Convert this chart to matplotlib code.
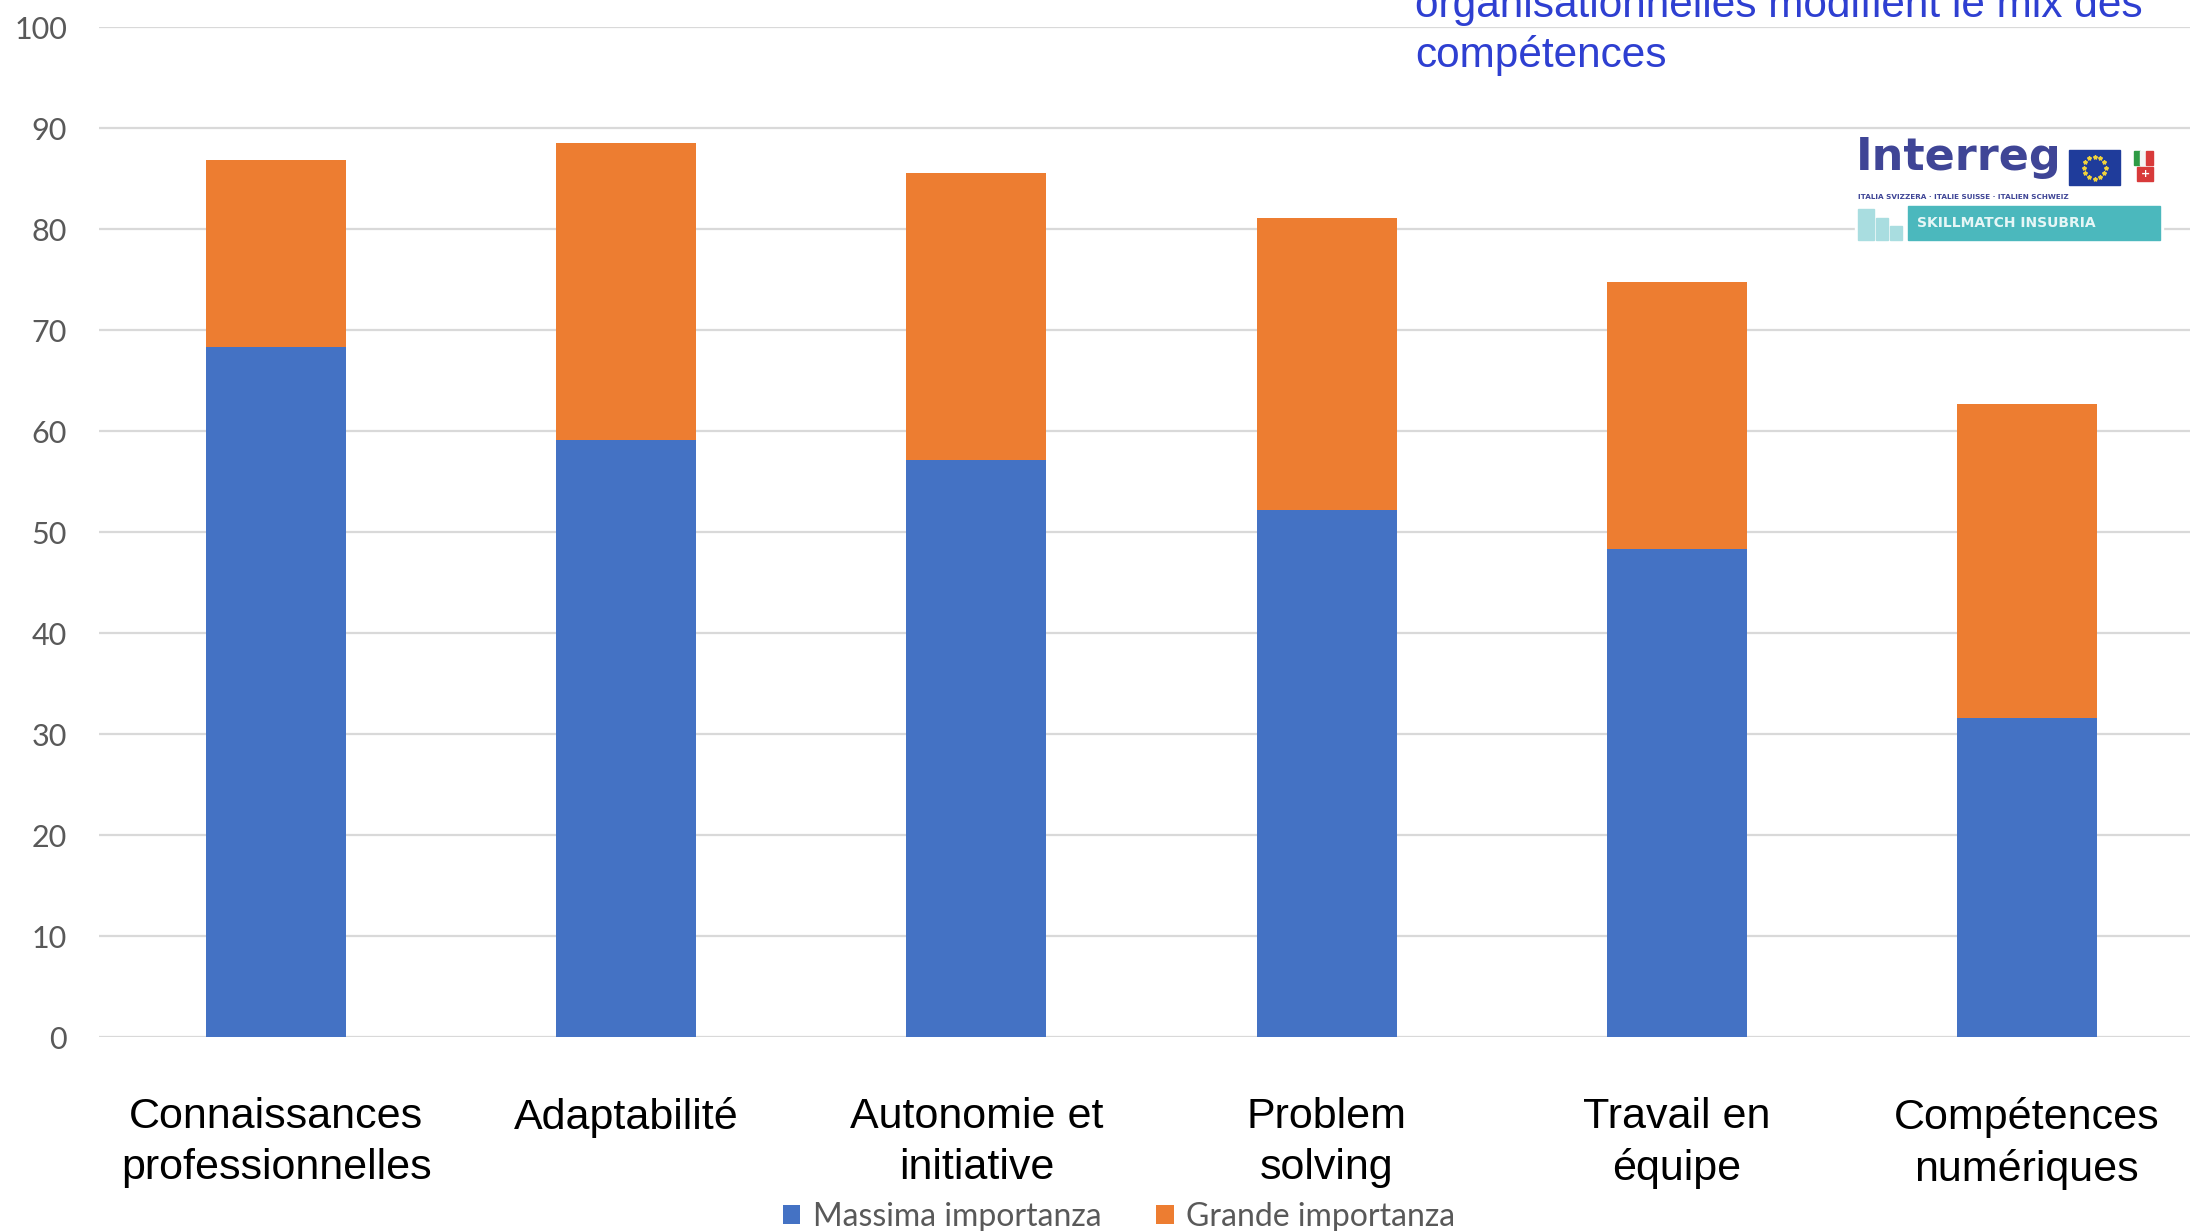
import numpy as np
import matplotlib.pyplot as plt
from matplotlib.patches import Rectangle

categories = ['Connaissances\nprofessionnelles', 'Adaptabilité', 'Autonomie et\ninitiative',
              'Problem\nsolving', 'Travail en\néquipe', 'Compétences\nnumériques']
massima = [68.3, 59.1, 57.2, 52.2, 48.3, 31.6]
grande_total = [86.9, 88.5, 85.6, 81.1, 74.8, 62.7]
grande = [t - m for t, m in zip(grande_total, massima)]
series_names = ['Massima importanza', 'Grande importanza']
yticks = list(range(0, 101, 10))

BLUE = '#4472C4'
ORANGE = '#ED7D31'
GRID = '#D9D9D9'
TICK_GREY = '#595959'

W, H = 2190, 1231
fig = plt.figure(figsize=(W / 100, H / 100), dpi=100)

ax = fig.add_axes([99 / W, 1 - 1037.3 / H, 1 - 99 / W, (1037.3 - 27.3) / H])
x = np.arange(len(categories))
b1 = ax.bar(x, massima, width=0.4, color=BLUE, zorder=3, label=series_names[0])
b2 = ax.bar(x, grande, width=0.4, bottom=massima, color=ORANGE, zorder=3, label=series_names[1])

ax.set_xlim(-0.506, 5.466)
ax.set_ylim(0, 100)
ax.set_yticks(yticks)
ax.yaxis.grid(True, color=GRID, linewidth=1.6, zorder=0)
ax.set_axisbelow(True)
for s in ax.spines.values():
    s.set_visible(False)
ax.tick_params(axis='y', length=0, pad=23, labelsize=22, labelcolor=TICK_GREY)
for lab in ax.get_yticklabels():
    lab.set_fontfamily('Lato')
ax.set_xticks(x)
ax.set_xticklabels(categories, fontsize=31, fontfamily='Liberation Sans', linespacing=1.35)
ax.tick_params(axis='x', length=0, pad=43, labelcolor='black')

fig.legend(handles=[b1, b2], labels=series_names, loc='center', bbox_to_anchor=(0.511, 1 - 1217 / H),
           ncol=2, frameon=False, prop={'family': 'Lato', 'size': 23}, labelcolor=TICK_GREY,
           handlelength=0.55, handleheight=0.55, handletextpad=0.4, columnspacing=1.7)

# overlay in pixel coordinates for slide title and logo
ov = fig.add_axes([0, 0, 1, 1], zorder=5)
ov.set_xlim(0, W)
ov.set_ylim(H, 0)
ov.axis('off')

title_col = '#2E3FD1'
ov.text(1415, 16.7, 'organisationnelles modifient le mix des', color=title_col, fontsize=30.5,
        fontfamily='Liberation Sans', va='baseline', ha='left')
ov.text(1415, 66.7, 'compétences', color=title_col, fontsize=30.5,
        fontfamily='Liberation Sans', va='baseline', ha='left')

# Interreg / Skillmatch logo (approximation)
logo_blue = '#3F4596'
ov.add_patch(Rectangle((1855, 140), 308, 102, color='white', zorder=1))
ov.text(1856, 170, 'Interreg', color=logo_blue, fontsize=32, fontweight='bold',
        fontfamily='DejaVu Sans', va='baseline', ha='left', zorder=2)
ov.add_patch(Rectangle((2069, 150), 51, 35, color='#1F3C9B', zorder=2))
ang = np.linspace(0, 2 * np.pi, 12, endpoint=False)
ov.plot(2094.5 + 11 * np.cos(ang), 167.5 + 11 * np.sin(ang), linestyle='none', marker='*',
        markersize=3, color='#F2D33B', zorder=3)
ov.add_patch(Rectangle((2134, 151), 6, 14, color='#2E9B45', zorder=2))
ov.add_patch(Rectangle((2140, 151), 6, 14, color='#F4F4F4', zorder=2))
ov.add_patch(Rectangle((2146, 151), 7, 14, color='#D83A3A', zorder=2))
ov.add_patch(Rectangle((2137, 167), 16, 14, color='#D83A3A', zorder=2))
ov.text(2145, 174, '+', color='white', fontsize=8, ha='center', va='center', fontweight='bold', zorder=3)
ov.text(1858, 197, 'ITALIA SVIZZERA · ITALIE SUISSE · ITALIEN SCHWEIZ', color=logo_blue,
        fontsize=5.2, fontweight='bold', fontfamily='DejaVu Sans', va='center', ha='left', zorder=2)
ov.add_patch(Rectangle((1908, 206), 252, 34, color='#4BB8BD', zorder=2))
ov.text(1917, 223, 'SKILLMATCH INSUBRIA', color='#E6F6F6', fontsize=10, fontweight='bold',
        fontfamily='DejaVu Sans', va='center', ha='left', zorder=3)
ov.add_patch(Rectangle((1858, 209), 16, 31, color='#A9DDE0', zorder=2))
ov.add_patch(Rectangle((1876, 218), 12, 22, color='#A9DDE0', zorder=2))
ov.add_patch(Rectangle((1890, 226), 12, 14, color='#A9DDE0', zorder=2))

fig.savefig('out.png', dpi=100)
